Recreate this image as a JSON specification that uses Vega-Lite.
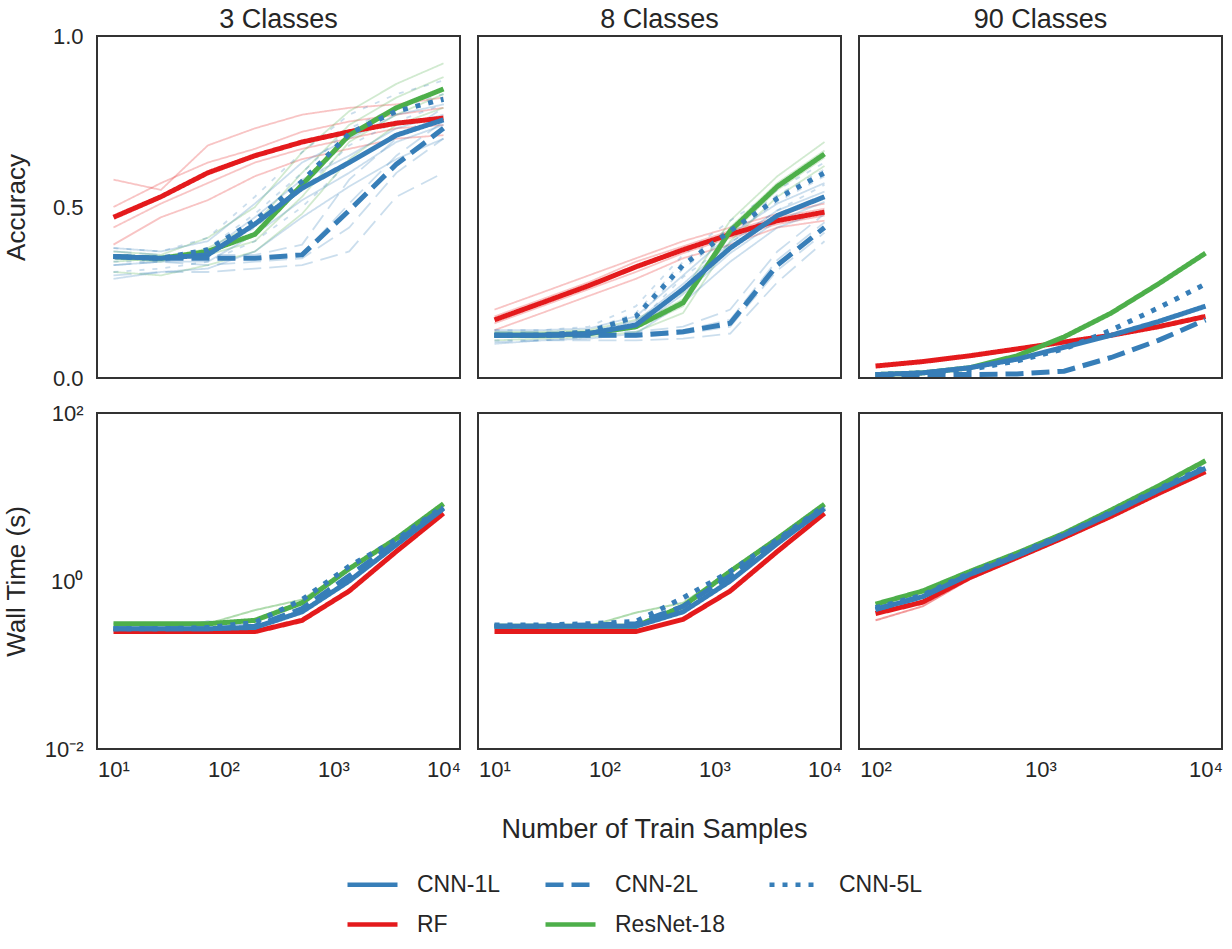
{
"$schema":"https://vega.github.io/schema/vega-lite/v6.json",
"background":"white",
"padding":{"left":2,"top":5,"right":5,"bottom":5},
"config":{
 "view":{"stroke":"#333333","strokeWidth":2},
 "font":"Liberation Sans",
 "axis":{"grid":false,"ticks":false,"domain":false,"labelFont":"Liberation Sans","labelFontSize":22,"labelColor":"#262626","titleFont":"Liberation Sans","titleFontSize":26,"titleColor":"#262626","titleFontWeight":"normal"},
 "title":{"font":"Liberation Sans","fontSize":27,"fontWeight":"normal","color":"#262626","offset":2,"frame":"group"},
 "legend":{"symbolType":"stroke","symbolSize":2500,"symbolStrokeWidth":4.5,"labelFontSize":23,"labelFont":"Liberation Sans","labelColor":"#262626","labelOffset":17,"columnPadding":35,"rowPadding":-20,"symbolOpacity":1,"labelLimit":300}
},
"datasets":{
"acc":[
{"c":"3","m":"RF","t":"1","x":10,"y":0.58},{"c":"3","m":"RF","t":"1","x":27,"y":0.55},{"c":"3","m":"RF","t":"1","x":72,"y":0.68},{"c":"3","m":"RF","t":"1","x":193,"y":0.73},{"c":"3","m":"RF","t":"1","x":518,"y":0.77},{"c":"3","m":"RF","t":"1","x":1389,"y":0.79},{"c":"3","m":"RF","t":"1","x":3728,"y":0.80},{"c":"3","m":"RF","t":"1","x":10000,"y":0.82},
{"c":"3","m":"RF","t":"2","x":10,"y":0.50},{"c":"3","m":"RF","t":"2","x":27,"y":0.57},{"c":"3","m":"RF","t":"2","x":72,"y":0.63},{"c":"3","m":"RF","t":"2","x":193,"y":0.67},{"c":"3","m":"RF","t":"2","x":518,"y":0.72},{"c":"3","m":"RF","t":"2","x":1389,"y":0.75},{"c":"3","m":"RF","t":"2","x":3728,"y":0.77},{"c":"3","m":"RF","t":"2","x":10000,"y":0.79},
{"c":"3","m":"RF","t":"3","x":10,"y":0.44},{"c":"3","m":"RF","t":"3","x":27,"y":0.51},{"c":"3","m":"RF","t":"3","x":72,"y":0.57},{"c":"3","m":"RF","t":"3","x":193,"y":0.63},{"c":"3","m":"RF","t":"3","x":518,"y":0.67},{"c":"3","m":"RF","t":"3","x":1389,"y":0.70},{"c":"3","m":"RF","t":"3","x":3728,"y":0.73},{"c":"3","m":"RF","t":"3","x":10000,"y":0.74},
{"c":"3","m":"RF","t":"4","x":10,"y":0.39},{"c":"3","m":"RF","t":"4","x":27,"y":0.47},{"c":"3","m":"RF","t":"4","x":72,"y":0.52},{"c":"3","m":"RF","t":"4","x":193,"y":0.59},{"c":"3","m":"RF","t":"4","x":518,"y":0.64},{"c":"3","m":"RF","t":"4","x":1389,"y":0.67},{"c":"3","m":"RF","t":"4","x":3728,"y":0.70},{"c":"3","m":"RF","t":"4","x":10000,"y":0.71},
{"c":"3","m":"ResNet-18","t":"1","x":10,"y":0.37},{"c":"3","m":"ResNet-18","t":"1","x":27,"y":0.36},{"c":"3","m":"ResNet-18","t":"1","x":72,"y":0.41},{"c":"3","m":"ResNet-18","t":"1","x":193,"y":0.50},{"c":"3","m":"ResNet-18","t":"1","x":518,"y":0.66},{"c":"3","m":"ResNet-18","t":"1","x":1389,"y":0.78},{"c":"3","m":"ResNet-18","t":"1","x":3728,"y":0.86},{"c":"3","m":"ResNet-18","t":"1","x":10000,"y":0.92},
{"c":"3","m":"ResNet-18","t":"2","x":10,"y":0.35},{"c":"3","m":"ResNet-18","t":"2","x":27,"y":0.34},{"c":"3","m":"ResNet-18","t":"2","x":72,"y":0.38},{"c":"3","m":"ResNet-18","t":"2","x":193,"y":0.45},{"c":"3","m":"ResNet-18","t":"2","x":518,"y":0.60},{"c":"3","m":"ResNet-18","t":"2","x":1389,"y":0.74},{"c":"3","m":"ResNet-18","t":"2","x":3728,"y":0.82},{"c":"3","m":"ResNet-18","t":"2","x":10000,"y":0.88},
{"c":"3","m":"ResNet-18","t":"3","x":10,"y":0.34},{"c":"3","m":"ResNet-18","t":"3","x":27,"y":0.35},{"c":"3","m":"ResNet-18","t":"3","x":72,"y":0.36},{"c":"3","m":"ResNet-18","t":"3","x":193,"y":0.40},{"c":"3","m":"ResNet-18","t":"3","x":518,"y":0.53},{"c":"3","m":"ResNet-18","t":"3","x":1389,"y":0.69},{"c":"3","m":"ResNet-18","t":"3","x":3728,"y":0.77},{"c":"3","m":"ResNet-18","t":"3","x":10000,"y":0.83},
{"c":"3","m":"ResNet-18","t":"4","x":10,"y":0.31},{"c":"3","m":"ResNet-18","t":"4","x":27,"y":0.30},{"c":"3","m":"ResNet-18","t":"4","x":72,"y":0.33},{"c":"3","m":"ResNet-18","t":"4","x":193,"y":0.37},{"c":"3","m":"ResNet-18","t":"4","x":518,"y":0.48},{"c":"3","m":"ResNet-18","t":"4","x":1389,"y":0.64},{"c":"3","m":"ResNet-18","t":"4","x":3728,"y":0.74},{"c":"3","m":"ResNet-18","t":"4","x":10000,"y":0.79},
{"c":"3","m":"CNN-1L","t":"1","x":10,"y":0.38},{"c":"3","m":"CNN-1L","t":"1","x":27,"y":0.37},{"c":"3","m":"CNN-1L","t":"1","x":72,"y":0.40},{"c":"3","m":"CNN-1L","t":"1","x":193,"y":0.51},{"c":"3","m":"CNN-1L","t":"1","x":518,"y":0.63},{"c":"3","m":"CNN-1L","t":"1","x":1389,"y":0.70},{"c":"3","m":"CNN-1L","t":"1","x":3728,"y":0.77},{"c":"3","m":"CNN-1L","t":"1","x":10000,"y":0.80},
{"c":"3","m":"CNN-1L","t":"2","x":10,"y":0.36},{"c":"3","m":"CNN-1L","t":"2","x":27,"y":0.35},{"c":"3","m":"CNN-1L","t":"2","x":72,"y":0.37},{"c":"3","m":"CNN-1L","t":"2","x":193,"y":0.47},{"c":"3","m":"CNN-1L","t":"2","x":518,"y":0.58},{"c":"3","m":"CNN-1L","t":"2","x":1389,"y":0.65},{"c":"3","m":"CNN-1L","t":"2","x":3728,"y":0.73},{"c":"3","m":"CNN-1L","t":"2","x":10000,"y":0.77},
{"c":"3","m":"CNN-1L","t":"3","x":10,"y":0.33},{"c":"3","m":"CNN-1L","t":"3","x":27,"y":0.34},{"c":"3","m":"CNN-1L","t":"3","x":72,"y":0.34},{"c":"3","m":"CNN-1L","t":"3","x":193,"y":0.42},{"c":"3","m":"CNN-1L","t":"3","x":518,"y":0.52},{"c":"3","m":"CNN-1L","t":"3","x":1389,"y":0.60},{"c":"3","m":"CNN-1L","t":"3","x":3728,"y":0.69},{"c":"3","m":"CNN-1L","t":"3","x":10000,"y":0.74},
{"c":"3","m":"CNN-1L","t":"4","x":10,"y":0.29},{"c":"3","m":"CNN-1L","t":"4","x":27,"y":0.31},{"c":"3","m":"CNN-1L","t":"4","x":72,"y":0.32},{"c":"3","m":"CNN-1L","t":"4","x":193,"y":0.37},{"c":"3","m":"CNN-1L","t":"4","x":518,"y":0.47},{"c":"3","m":"CNN-1L","t":"4","x":1389,"y":0.56},{"c":"3","m":"CNN-1L","t":"4","x":3728,"y":0.64},{"c":"3","m":"CNN-1L","t":"4","x":10000,"y":0.70},
{"c":"3","m":"CNN-2L","t":"1","x":10,"y":0.37},{"c":"3","m":"CNN-2L","t":"1","x":27,"y":0.36},{"c":"3","m":"CNN-2L","t":"1","x":72,"y":0.36},{"c":"3","m":"CNN-2L","t":"1","x":193,"y":0.36},{"c":"3","m":"CNN-2L","t":"1","x":518,"y":0.39},{"c":"3","m":"CNN-2L","t":"1","x":1389,"y":0.58},{"c":"3","m":"CNN-2L","t":"1","x":3728,"y":0.70},{"c":"3","m":"CNN-2L","t":"1","x":10000,"y":0.79},
{"c":"3","m":"CNN-2L","t":"2","x":10,"y":0.35},{"c":"3","m":"CNN-2L","t":"2","x":27,"y":0.35},{"c":"3","m":"CNN-2L","t":"2","x":72,"y":0.35},{"c":"3","m":"CNN-2L","t":"2","x":193,"y":0.35},{"c":"3","m":"CNN-2L","t":"2","x":518,"y":0.36},{"c":"3","m":"CNN-2L","t":"2","x":1389,"y":0.51},{"c":"3","m":"CNN-2L","t":"2","x":3728,"y":0.65},{"c":"3","m":"CNN-2L","t":"2","x":10000,"y":0.75},
{"c":"3","m":"CNN-2L","t":"3","x":10,"y":0.33},{"c":"3","m":"CNN-2L","t":"3","x":27,"y":0.34},{"c":"3","m":"CNN-2L","t":"3","x":72,"y":0.33},{"c":"3","m":"CNN-2L","t":"3","x":193,"y":0.34},{"c":"3","m":"CNN-2L","t":"3","x":518,"y":0.35},{"c":"3","m":"CNN-2L","t":"3","x":1389,"y":0.44},{"c":"3","m":"CNN-2L","t":"3","x":3728,"y":0.60},{"c":"3","m":"CNN-2L","t":"3","x":10000,"y":0.70},
{"c":"3","m":"CNN-2L","t":"4","x":10,"y":0.30},{"c":"3","m":"CNN-2L","t":"4","x":27,"y":0.31},{"c":"3","m":"CNN-2L","t":"4","x":72,"y":0.31},{"c":"3","m":"CNN-2L","t":"4","x":193,"y":0.32},{"c":"3","m":"CNN-2L","t":"4","x":518,"y":0.33},{"c":"3","m":"CNN-2L","t":"4","x":1389,"y":0.37},{"c":"3","m":"CNN-2L","t":"4","x":3728,"y":0.53},{"c":"3","m":"CNN-2L","t":"4","x":10000,"y":0.60},
{"c":"3","m":"CNN-5L","t":"1","x":10,"y":0.38},{"c":"3","m":"CNN-5L","t":"1","x":27,"y":0.37},{"c":"3","m":"CNN-5L","t":"1","x":72,"y":0.41},{"c":"3","m":"CNN-5L","t":"1","x":193,"y":0.53},{"c":"3","m":"CNN-5L","t":"1","x":518,"y":0.66},{"c":"3","m":"CNN-5L","t":"1","x":1389,"y":0.77},{"c":"3","m":"CNN-5L","t":"1","x":3728,"y":0.83},{"c":"3","m":"CNN-5L","t":"1","x":10000,"y":0.87},
{"c":"3","m":"CNN-5L","t":"2","x":10,"y":0.36},{"c":"3","m":"CNN-5L","t":"2","x":27,"y":0.35},{"c":"3","m":"CNN-5L","t":"2","x":72,"y":0.38},{"c":"3","m":"CNN-5L","t":"2","x":193,"y":0.48},{"c":"3","m":"CNN-5L","t":"2","x":518,"y":0.60},{"c":"3","m":"CNN-5L","t":"2","x":1389,"y":0.73},{"c":"3","m":"CNN-5L","t":"2","x":3728,"y":0.79},{"c":"3","m":"CNN-5L","t":"2","x":10000,"y":0.83},
{"c":"3","m":"CNN-5L","t":"3","x":10,"y":0.34},{"c":"3","m":"CNN-5L","t":"3","x":27,"y":0.34},{"c":"3","m":"CNN-5L","t":"3","x":72,"y":0.36},{"c":"3","m":"CNN-5L","t":"3","x":193,"y":0.44},{"c":"3","m":"CNN-5L","t":"3","x":518,"y":0.55},{"c":"3","m":"CNN-5L","t":"3","x":1389,"y":0.68},{"c":"3","m":"CNN-5L","t":"3","x":3728,"y":0.75},{"c":"3","m":"CNN-5L","t":"3","x":10000,"y":0.80},
{"c":"3","m":"CNN-5L","t":"4","x":10,"y":0.31},{"c":"3","m":"CNN-5L","t":"4","x":27,"y":0.32},{"c":"3","m":"CNN-5L","t":"4","x":72,"y":0.34},{"c":"3","m":"CNN-5L","t":"4","x":193,"y":0.40},{"c":"3","m":"CNN-5L","t":"4","x":518,"y":0.50},{"c":"3","m":"CNN-5L","t":"4","x":1389,"y":0.63},{"c":"3","m":"CNN-5L","t":"4","x":3728,"y":0.71},{"c":"3","m":"CNN-5L","t":"4","x":10000,"y":0.76},
{"c":"3","m":"RF","t":"m","x":10,"y":0.47},{"c":"3","m":"RF","t":"m","x":27,"y":0.53},{"c":"3","m":"RF","t":"m","x":72,"y":0.60},{"c":"3","m":"RF","t":"m","x":193,"y":0.65},{"c":"3","m":"RF","t":"m","x":518,"y":0.69},{"c":"3","m":"RF","t":"m","x":1389,"y":0.72},{"c":"3","m":"RF","t":"m","x":3728,"y":0.745},{"c":"3","m":"RF","t":"m","x":10000,"y":0.76},
{"c":"3","m":"ResNet-18","t":"m","x":10,"y":0.355},{"c":"3","m":"ResNet-18","t":"m","x":27,"y":0.35},{"c":"3","m":"ResNet-18","t":"m","x":72,"y":0.37},{"c":"3","m":"ResNet-18","t":"m","x":193,"y":0.42},{"c":"3","m":"ResNet-18","t":"m","x":518,"y":0.565},{"c":"3","m":"ResNet-18","t":"m","x":1389,"y":0.71},{"c":"3","m":"ResNet-18","t":"m","x":3728,"y":0.79},{"c":"3","m":"ResNet-18","t":"m","x":10000,"y":0.845},
{"c":"3","m":"CNN-1L","t":"m","x":10,"y":0.355},{"c":"3","m":"CNN-1L","t":"m","x":27,"y":0.35},{"c":"3","m":"CNN-1L","t":"m","x":72,"y":0.36},{"c":"3","m":"CNN-1L","t":"m","x":193,"y":0.45},{"c":"3","m":"CNN-1L","t":"m","x":518,"y":0.555},{"c":"3","m":"CNN-1L","t":"m","x":1389,"y":0.63},{"c":"3","m":"CNN-1L","t":"m","x":3728,"y":0.71},{"c":"3","m":"CNN-1L","t":"m","x":10000,"y":0.755},
{"c":"3","m":"CNN-2L","t":"m","x":10,"y":0.355},{"c":"3","m":"CNN-2L","t":"m","x":27,"y":0.35},{"c":"3","m":"CNN-2L","t":"m","x":72,"y":0.35},{"c":"3","m":"CNN-2L","t":"m","x":193,"y":0.35},{"c":"3","m":"CNN-2L","t":"m","x":518,"y":0.36},{"c":"3","m":"CNN-2L","t":"m","x":1389,"y":0.49},{"c":"3","m":"CNN-2L","t":"m","x":3728,"y":0.625},{"c":"3","m":"CNN-2L","t":"m","x":10000,"y":0.73},
{"c":"3","m":"CNN-5L","t":"m","x":10,"y":0.355},{"c":"3","m":"CNN-5L","t":"m","x":27,"y":0.35},{"c":"3","m":"CNN-5L","t":"m","x":72,"y":0.375},{"c":"3","m":"CNN-5L","t":"m","x":193,"y":0.46},{"c":"3","m":"CNN-5L","t":"m","x":518,"y":0.575},{"c":"3","m":"CNN-5L","t":"m","x":1389,"y":0.715},{"c":"3","m":"CNN-5L","t":"m","x":3728,"y":0.78},{"c":"3","m":"CNN-5L","t":"m","x":10000,"y":0.815},
{"c":"8","m":"RF","t":"1","x":10,"y":0.20},{"c":"8","m":"RF","t":"1","x":27,"y":0.25},{"c":"8","m":"RF","t":"1","x":72,"y":0.30},{"c":"8","m":"RF","t":"1","x":193,"y":0.35},{"c":"8","m":"RF","t":"1","x":518,"y":0.40},{"c":"8","m":"RF","t":"1","x":1389,"y":0.44},{"c":"8","m":"RF","t":"1","x":3728,"y":0.48},{"c":"8","m":"RF","t":"1","x":10000,"y":0.51},
{"c":"8","m":"RF","t":"2","x":10,"y":0.18},{"c":"8","m":"RF","t":"2","x":27,"y":0.23},{"c":"8","m":"RF","t":"2","x":72,"y":0.28},{"c":"8","m":"RF","t":"2","x":193,"y":0.34},{"c":"8","m":"RF","t":"2","x":518,"y":0.385},{"c":"8","m":"RF","t":"2","x":1389,"y":0.43},{"c":"8","m":"RF","t":"2","x":3728,"y":0.47},{"c":"8","m":"RF","t":"2","x":10000,"y":0.495},
{"c":"8","m":"RF","t":"3","x":10,"y":0.16},{"c":"8","m":"RF","t":"3","x":27,"y":0.21},{"c":"8","m":"RF","t":"3","x":72,"y":0.26},{"c":"8","m":"RF","t":"3","x":193,"y":0.31},{"c":"8","m":"RF","t":"3","x":518,"y":0.365},{"c":"8","m":"RF","t":"3","x":1389,"y":0.41},{"c":"8","m":"RF","t":"3","x":3728,"y":0.45},{"c":"8","m":"RF","t":"3","x":10000,"y":0.475},
{"c":"8","m":"RF","t":"4","x":10,"y":0.14},{"c":"8","m":"RF","t":"4","x":27,"y":0.19},{"c":"8","m":"RF","t":"4","x":72,"y":0.24},{"c":"8","m":"RF","t":"4","x":193,"y":0.29},{"c":"8","m":"RF","t":"4","x":518,"y":0.35},{"c":"8","m":"RF","t":"4","x":1389,"y":0.39},{"c":"8","m":"RF","t":"4","x":3728,"y":0.44},{"c":"8","m":"RF","t":"4","x":10000,"y":0.46},
{"c":"8","m":"ResNet-18","t":"1","x":10,"y":0.135},{"c":"8","m":"ResNet-18","t":"1","x":27,"y":0.135},{"c":"8","m":"ResNet-18","t":"1","x":72,"y":0.14},{"c":"8","m":"ResNet-18","t":"1","x":193,"y":0.17},{"c":"8","m":"ResNet-18","t":"1","x":518,"y":0.25},{"c":"8","m":"ResNet-18","t":"1","x":1389,"y":0.46},{"c":"8","m":"ResNet-18","t":"1","x":3728,"y":0.59},{"c":"8","m":"ResNet-18","t":"1","x":10000,"y":0.69},
{"c":"8","m":"ResNet-18","t":"2","x":10,"y":0.13},{"c":"8","m":"ResNet-18","t":"2","x":27,"y":0.13},{"c":"8","m":"ResNet-18","t":"2","x":72,"y":0.135},{"c":"8","m":"ResNet-18","t":"2","x":193,"y":0.155},{"c":"8","m":"ResNet-18","t":"2","x":518,"y":0.23},{"c":"8","m":"ResNet-18","t":"2","x":1389,"y":0.44},{"c":"8","m":"ResNet-18","t":"2","x":3728,"y":0.57},{"c":"8","m":"ResNet-18","t":"2","x":10000,"y":0.665},
{"c":"8","m":"ResNet-18","t":"3","x":10,"y":0.12},{"c":"8","m":"ResNet-18","t":"3","x":27,"y":0.12},{"c":"8","m":"ResNet-18","t":"3","x":72,"y":0.125},{"c":"8","m":"ResNet-18","t":"3","x":193,"y":0.145},{"c":"8","m":"ResNet-18","t":"3","x":518,"y":0.21},{"c":"8","m":"ResNet-18","t":"3","x":1389,"y":0.42},{"c":"8","m":"ResNet-18","t":"3","x":3728,"y":0.55},{"c":"8","m":"ResNet-18","t":"3","x":10000,"y":0.645},
{"c":"8","m":"ResNet-18","t":"4","x":10,"y":0.11},{"c":"8","m":"ResNet-18","t":"4","x":27,"y":0.115},{"c":"8","m":"ResNet-18","t":"4","x":72,"y":0.12},{"c":"8","m":"ResNet-18","t":"4","x":193,"y":0.135},{"c":"8","m":"ResNet-18","t":"4","x":518,"y":0.19},{"c":"8","m":"ResNet-18","t":"4","x":1389,"y":0.40},{"c":"8","m":"ResNet-18","t":"4","x":3728,"y":0.53},{"c":"8","m":"ResNet-18","t":"4","x":10000,"y":0.62},
{"c":"8","m":"CNN-1L","t":"1","x":10,"y":0.14},{"c":"8","m":"CNN-1L","t":"1","x":27,"y":0.14},{"c":"8","m":"CNN-1L","t":"1","x":72,"y":0.145},{"c":"8","m":"CNN-1L","t":"1","x":193,"y":0.18},{"c":"8","m":"CNN-1L","t":"1","x":518,"y":0.30},{"c":"8","m":"CNN-1L","t":"1","x":1389,"y":0.42},{"c":"8","m":"CNN-1L","t":"1","x":3728,"y":0.51},{"c":"8","m":"CNN-1L","t":"1","x":10000,"y":0.57},
{"c":"8","m":"CNN-1L","t":"2","x":10,"y":0.13},{"c":"8","m":"CNN-1L","t":"2","x":27,"y":0.13},{"c":"8","m":"CNN-1L","t":"2","x":72,"y":0.135},{"c":"8","m":"CNN-1L","t":"2","x":193,"y":0.165},{"c":"8","m":"CNN-1L","t":"2","x":518,"y":0.275},{"c":"8","m":"CNN-1L","t":"2","x":1389,"y":0.395},{"c":"8","m":"CNN-1L","t":"2","x":3728,"y":0.49},{"c":"8","m":"CNN-1L","t":"2","x":10000,"y":0.545},
{"c":"8","m":"CNN-1L","t":"3","x":10,"y":0.12},{"c":"8","m":"CNN-1L","t":"3","x":27,"y":0.12},{"c":"8","m":"CNN-1L","t":"3","x":72,"y":0.125},{"c":"8","m":"CNN-1L","t":"3","x":193,"y":0.145},{"c":"8","m":"CNN-1L","t":"3","x":518,"y":0.245},{"c":"8","m":"CNN-1L","t":"3","x":1389,"y":0.365},{"c":"8","m":"CNN-1L","t":"3","x":3728,"y":0.46},{"c":"8","m":"CNN-1L","t":"3","x":10000,"y":0.515},
{"c":"8","m":"CNN-1L","t":"4","x":10,"y":0.10},{"c":"8","m":"CNN-1L","t":"4","x":27,"y":0.11},{"c":"8","m":"CNN-1L","t":"4","x":72,"y":0.115},{"c":"8","m":"CNN-1L","t":"4","x":193,"y":0.13},{"c":"8","m":"CNN-1L","t":"4","x":518,"y":0.22},{"c":"8","m":"CNN-1L","t":"4","x":1389,"y":0.34},{"c":"8","m":"CNN-1L","t":"4","x":3728,"y":0.44},{"c":"8","m":"CNN-1L","t":"4","x":10000,"y":0.49},
{"c":"8","m":"CNN-2L","t":"1","x":10,"y":0.135},{"c":"8","m":"CNN-2L","t":"1","x":27,"y":0.135},{"c":"8","m":"CNN-2L","t":"1","x":72,"y":0.135},{"c":"8","m":"CNN-2L","t":"1","x":193,"y":0.135},{"c":"8","m":"CNN-2L","t":"1","x":518,"y":0.15},{"c":"8","m":"CNN-2L","t":"1","x":1389,"y":0.20},{"c":"8","m":"CNN-2L","t":"1","x":3728,"y":0.37},{"c":"8","m":"CNN-2L","t":"1","x":10000,"y":0.48},
{"c":"8","m":"CNN-2L","t":"2","x":10,"y":0.13},{"c":"8","m":"CNN-2L","t":"2","x":27,"y":0.13},{"c":"8","m":"CNN-2L","t":"2","x":72,"y":0.13},{"c":"8","m":"CNN-2L","t":"2","x":193,"y":0.13},{"c":"8","m":"CNN-2L","t":"2","x":518,"y":0.14},{"c":"8","m":"CNN-2L","t":"2","x":1389,"y":0.17},{"c":"8","m":"CNN-2L","t":"2","x":3728,"y":0.345},{"c":"8","m":"CNN-2L","t":"2","x":10000,"y":0.455},
{"c":"8","m":"CNN-2L","t":"3","x":10,"y":0.12},{"c":"8","m":"CNN-2L","t":"3","x":27,"y":0.12},{"c":"8","m":"CNN-2L","t":"3","x":72,"y":0.12},{"c":"8","m":"CNN-2L","t":"3","x":193,"y":0.12},{"c":"8","m":"CNN-2L","t":"3","x":518,"y":0.13},{"c":"8","m":"CNN-2L","t":"3","x":1389,"y":0.15},{"c":"8","m":"CNN-2L","t":"3","x":3728,"y":0.315},{"c":"8","m":"CNN-2L","t":"3","x":10000,"y":0.425},
{"c":"8","m":"CNN-2L","t":"4","x":10,"y":0.105},{"c":"8","m":"CNN-2L","t":"4","x":27,"y":0.11},{"c":"8","m":"CNN-2L","t":"4","x":72,"y":0.11},{"c":"8","m":"CNN-2L","t":"4","x":193,"y":0.11},{"c":"8","m":"CNN-2L","t":"4","x":518,"y":0.115},{"c":"8","m":"CNN-2L","t":"4","x":1389,"y":0.13},{"c":"8","m":"CNN-2L","t":"4","x":3728,"y":0.28},{"c":"8","m":"CNN-2L","t":"4","x":10000,"y":0.40},
{"c":"8","m":"CNN-5L","t":"1","x":10,"y":0.14},{"c":"8","m":"CNN-5L","t":"1","x":27,"y":0.14},{"c":"8","m":"CNN-5L","t":"1","x":72,"y":0.15},{"c":"8","m":"CNN-5L","t":"1","x":193,"y":0.21},{"c":"8","m":"CNN-5L","t":"1","x":518,"y":0.36},{"c":"8","m":"CNN-5L","t":"1","x":1389,"y":0.46},{"c":"8","m":"CNN-5L","t":"1","x":3728,"y":0.55},{"c":"8","m":"CNN-5L","t":"1","x":10000,"y":0.63},
{"c":"8","m":"CNN-5L","t":"2","x":10,"y":0.13},{"c":"8","m":"CNN-5L","t":"2","x":27,"y":0.13},{"c":"8","m":"CNN-5L","t":"2","x":72,"y":0.14},{"c":"8","m":"CNN-5L","t":"2","x":193,"y":0.19},{"c":"8","m":"CNN-5L","t":"2","x":518,"y":0.34},{"c":"8","m":"CNN-5L","t":"2","x":1389,"y":0.44},{"c":"8","m":"CNN-5L","t":"2","x":3728,"y":0.535},{"c":"8","m":"CNN-5L","t":"2","x":10000,"y":0.61},
{"c":"8","m":"CNN-5L","t":"3","x":10,"y":0.12},{"c":"8","m":"CNN-5L","t":"3","x":27,"y":0.12},{"c":"8","m":"CNN-5L","t":"3","x":72,"y":0.13},{"c":"8","m":"CNN-5L","t":"3","x":193,"y":0.17},{"c":"8","m":"CNN-5L","t":"3","x":518,"y":0.32},{"c":"8","m":"CNN-5L","t":"3","x":1389,"y":0.42},{"c":"8","m":"CNN-5L","t":"3","x":3728,"y":0.515},{"c":"8","m":"CNN-5L","t":"3","x":10000,"y":0.59},
{"c":"8","m":"CNN-5L","t":"4","x":10,"y":0.11},{"c":"8","m":"CNN-5L","t":"4","x":27,"y":0.11},{"c":"8","m":"CNN-5L","t":"4","x":72,"y":0.12},{"c":"8","m":"CNN-5L","t":"4","x":193,"y":0.155},{"c":"8","m":"CNN-5L","t":"4","x":518,"y":0.295},{"c":"8","m":"CNN-5L","t":"4","x":1389,"y":0.395},{"c":"8","m":"CNN-5L","t":"4","x":3728,"y":0.49},{"c":"8","m":"CNN-5L","t":"4","x":10000,"y":0.565},
{"c":"8","m":"RF","t":"m","x":10,"y":0.17},{"c":"8","m":"RF","t":"m","x":27,"y":0.22},{"c":"8","m":"RF","t":"m","x":72,"y":0.27},{"c":"8","m":"RF","t":"m","x":193,"y":0.325},{"c":"8","m":"RF","t":"m","x":518,"y":0.375},{"c":"8","m":"RF","t":"m","x":1389,"y":0.42},{"c":"8","m":"RF","t":"m","x":3728,"y":0.46},{"c":"8","m":"RF","t":"m","x":10000,"y":0.485},
{"c":"8","m":"ResNet-18","t":"m","x":10,"y":0.125},{"c":"8","m":"ResNet-18","t":"m","x":27,"y":0.125},{"c":"8","m":"ResNet-18","t":"m","x":72,"y":0.13},{"c":"8","m":"ResNet-18","t":"m","x":193,"y":0.15},{"c":"8","m":"ResNet-18","t":"m","x":518,"y":0.22},{"c":"8","m":"ResNet-18","t":"m","x":1389,"y":0.43},{"c":"8","m":"ResNet-18","t":"m","x":3728,"y":0.56},{"c":"8","m":"ResNet-18","t":"m","x":10000,"y":0.655},
{"c":"8","m":"CNN-1L","t":"m","x":10,"y":0.125},{"c":"8","m":"CNN-1L","t":"m","x":27,"y":0.125},{"c":"8","m":"CNN-1L","t":"m","x":72,"y":0.13},{"c":"8","m":"CNN-1L","t":"m","x":193,"y":0.155},{"c":"8","m":"CNN-1L","t":"m","x":518,"y":0.26},{"c":"8","m":"CNN-1L","t":"m","x":1389,"y":0.38},{"c":"8","m":"CNN-1L","t":"m","x":3728,"y":0.475},{"c":"8","m":"CNN-1L","t":"m","x":10000,"y":0.53},
{"c":"8","m":"CNN-2L","t":"m","x":10,"y":0.125},{"c":"8","m":"CNN-2L","t":"m","x":27,"y":0.125},{"c":"8","m":"CNN-2L","t":"m","x":72,"y":0.125},{"c":"8","m":"CNN-2L","t":"m","x":193,"y":0.125},{"c":"8","m":"CNN-2L","t":"m","x":518,"y":0.135},{"c":"8","m":"CNN-2L","t":"m","x":1389,"y":0.16},{"c":"8","m":"CNN-2L","t":"m","x":3728,"y":0.33},{"c":"8","m":"CNN-2L","t":"m","x":10000,"y":0.44},
{"c":"8","m":"CNN-5L","t":"m","x":10,"y":0.125},{"c":"8","m":"CNN-5L","t":"m","x":27,"y":0.125},{"c":"8","m":"CNN-5L","t":"m","x":72,"y":0.135},{"c":"8","m":"CNN-5L","t":"m","x":193,"y":0.18},{"c":"8","m":"CNN-5L","t":"m","x":518,"y":0.33},{"c":"8","m":"CNN-5L","t":"m","x":1389,"y":0.43},{"c":"8","m":"CNN-5L","t":"m","x":3728,"y":0.525},{"c":"8","m":"CNN-5L","t":"m","x":10000,"y":0.6},
{"c":"90","m":"RF","t":"m","x":100,"y":0.035},{"c":"90","m":"RF","t":"m","x":193,"y":0.048},{"c":"90","m":"RF","t":"m","x":373,"y":0.065},{"c":"90","m":"RF","t":"m","x":720,"y":0.085},{"c":"90","m":"RF","t":"m","x":1389,"y":0.105},{"c":"90","m":"RF","t":"m","x":2683,"y":0.125},{"c":"90","m":"RF","t":"m","x":5179,"y":0.15},{"c":"90","m":"RF","t":"m","x":10000,"y":0.18},
{"c":"90","m":"ResNet-18","t":"m","x":100,"y":0.01},{"c":"90","m":"ResNet-18","t":"m","x":193,"y":0.015},{"c":"90","m":"ResNet-18","t":"m","x":373,"y":0.03},{"c":"90","m":"ResNet-18","t":"m","x":720,"y":0.065},{"c":"90","m":"ResNet-18","t":"m","x":1389,"y":0.12},{"c":"90","m":"ResNet-18","t":"m","x":2683,"y":0.19},{"c":"90","m":"ResNet-18","t":"m","x":5179,"y":0.275},{"c":"90","m":"ResNet-18","t":"m","x":10000,"y":0.365},
{"c":"90","m":"CNN-1L","t":"m","x":100,"y":0.01},{"c":"90","m":"CNN-1L","t":"m","x":193,"y":0.015},{"c":"90","m":"CNN-1L","t":"m","x":373,"y":0.03},{"c":"90","m":"CNN-1L","t":"m","x":720,"y":0.055},{"c":"90","m":"CNN-1L","t":"m","x":1389,"y":0.09},{"c":"90","m":"CNN-1L","t":"m","x":2683,"y":0.125},{"c":"90","m":"CNN-1L","t":"m","x":5179,"y":0.165},{"c":"90","m":"CNN-1L","t":"m","x":10000,"y":0.21},
{"c":"90","m":"CNN-2L","t":"m","x":100,"y":0.01},{"c":"90","m":"CNN-2L","t":"m","x":193,"y":0.01},{"c":"90","m":"CNN-2L","t":"m","x":373,"y":0.01},{"c":"90","m":"CNN-2L","t":"m","x":720,"y":0.012},{"c":"90","m":"CNN-2L","t":"m","x":1389,"y":0.02},{"c":"90","m":"CNN-2L","t":"m","x":2683,"y":0.06},{"c":"90","m":"CNN-2L","t":"m","x":5179,"y":0.11},{"c":"90","m":"CNN-2L","t":"m","x":10000,"y":0.17},
{"c":"90","m":"CNN-5L","t":"m","x":100,"y":0.01},{"c":"90","m":"CNN-5L","t":"m","x":193,"y":0.015},{"c":"90","m":"CNN-5L","t":"m","x":373,"y":0.025},{"c":"90","m":"CNN-5L","t":"m","x":720,"y":0.05},{"c":"90","m":"CNN-5L","t":"m","x":1389,"y":0.085},{"c":"90","m":"CNN-5L","t":"m","x":2683,"y":0.14},{"c":"90","m":"CNN-5L","t":"m","x":5179,"y":0.205},{"c":"90","m":"CNN-5L","t":"m","x":10000,"y":0.275}
],
"timet":[
{"c":"3","m":"ResNet-18","t":"1","x":10,"y":0.31},{"c":"3","m":"ResNet-18","t":"1","x":27,"y":0.31},{"c":"3","m":"ResNet-18","t":"1","x":72,"y":0.31},{"c":"3","m":"ResNet-18","t":"1","x":193,"y":0.45},{"c":"3","m":"ResNet-18","t":"1","x":518,"y":0.6},{"c":"3","m":"ResNet-18","t":"1","x":1389,"y":1.4},{"c":"3","m":"ResNet-18","t":"1","x":3728,"y":3.2},{"c":"3","m":"ResNet-18","t":"1","x":10000,"y":8.3},
{"c":"3","m":"CNN-1L","t":"1","x":10,"y":0.27},{"c":"3","m":"CNN-1L","t":"1","x":27,"y":0.27},{"c":"3","m":"CNN-1L","t":"1","x":72,"y":0.33},{"c":"3","m":"CNN-1L","t":"1","x":193,"y":0.29},{"c":"3","m":"CNN-1L","t":"1","x":518,"y":0.45},{"c":"3","m":"CNN-1L","t":"1","x":1389,"y":1.0},{"c":"3","m":"CNN-1L","t":"1","x":3728,"y":2.7},{"c":"3","m":"CNN-1L","t":"1","x":10000,"y":7.3},
{"c":"8","m":"ResNet-18","t":"1","x":10,"y":0.29},{"c":"8","m":"ResNet-18","t":"1","x":27,"y":0.29},{"c":"8","m":"ResNet-18","t":"1","x":72,"y":0.29},{"c":"8","m":"ResNet-18","t":"1","x":193,"y":0.42},{"c":"8","m":"ResNet-18","t":"1","x":518,"y":0.55},{"c":"8","m":"ResNet-18","t":"1","x":1389,"y":1.3},{"c":"8","m":"ResNet-18","t":"1","x":3728,"y":3.2},{"c":"8","m":"ResNet-18","t":"1","x":10000,"y":8.2},
{"c":"90","m":"RF","t":"1","x":100,"y":0.34},{"c":"90","m":"RF","t":"1","x":193,"y":0.5},{"c":"90","m":"RF","t":"1","x":373,"y":1.05},{"c":"90","m":"RF","t":"1","x":720,"y":1.85},{"c":"90","m":"RF","t":"1","x":1389,"y":3.2},{"c":"90","m":"RF","t":"1","x":2683,"y":5.8},{"c":"90","m":"RF","t":"1","x":5179,"y":10.8},{"c":"90","m":"RF","t":"1","x":10000,"y":20}
],
"time":[
{"c":"3","m":"RF","x":10,"y":0.25},{"c":"3","m":"RF","x":27,"y":0.25},{"c":"3","m":"RF","x":72,"y":0.25},{"c":"3","m":"RF","x":193,"y":0.25},{"c":"3","m":"RF","x":518,"y":0.34},{"c":"3","m":"RF","x":1389,"y":0.76},{"c":"3","m":"RF","x":3728,"y":2.25},{"c":"3","m":"RF","x":10000,"y":6.4},
{"c":"3","m":"ResNet-18","x":10,"y":0.31},{"c":"3","m":"ResNet-18","x":27,"y":0.31},{"c":"3","m":"ResNet-18","x":72,"y":0.31},{"c":"3","m":"ResNet-18","x":193,"y":0.34},{"c":"3","m":"ResNet-18","x":518,"y":0.55},{"c":"3","m":"ResNet-18","x":1389,"y":1.4},{"c":"3","m":"ResNet-18","x":3728,"y":3.2},{"c":"3","m":"ResNet-18","x":10000,"y":8.3},
{"c":"3","m":"CNN-1L","x":10,"y":0.27},{"c":"3","m":"CNN-1L","x":27,"y":0.27},{"c":"3","m":"CNN-1L","x":72,"y":0.27},{"c":"3","m":"CNN-1L","x":193,"y":0.28},{"c":"3","m":"CNN-1L","x":518,"y":0.43},{"c":"3","m":"CNN-1L","x":1389,"y":1.0},{"c":"3","m":"CNN-1L","x":3728,"y":2.7},{"c":"3","m":"CNN-1L","x":10000,"y":7.3},
{"c":"3","m":"CNN-2L","x":10,"y":0.27},{"c":"3","m":"CNN-2L","x":27,"y":0.27},{"c":"3","m":"CNN-2L","x":72,"y":0.27},{"c":"3","m":"CNN-2L","x":193,"y":0.29},{"c":"3","m":"CNN-2L","x":518,"y":0.47},{"c":"3","m":"CNN-2L","x":1389,"y":1.15},{"c":"3","m":"CNN-2L","x":3728,"y":2.9},{"c":"3","m":"CNN-2L","x":10000,"y":7.5},
{"c":"3","m":"CNN-5L","x":10,"y":0.27},{"c":"3","m":"CNN-5L","x":27,"y":0.27},{"c":"3","m":"CNN-5L","x":72,"y":0.28},{"c":"3","m":"CNN-5L","x":193,"y":0.32},{"c":"3","m":"CNN-5L","x":518,"y":0.6},{"c":"3","m":"CNN-5L","x":1389,"y":1.5},{"c":"3","m":"CNN-5L","x":3728,"y":3.1},{"c":"3","m":"CNN-5L","x":10000,"y":7.8},
{"c":"8","m":"RF","x":10,"y":0.25},{"c":"8","m":"RF","x":27,"y":0.25},{"c":"8","m":"RF","x":72,"y":0.25},{"c":"8","m":"RF","x":193,"y":0.25},{"c":"8","m":"RF","x":518,"y":0.35},{"c":"8","m":"RF","x":1389,"y":0.76},{"c":"8","m":"RF","x":3728,"y":2.25},{"c":"8","m":"RF","x":10000,"y":6.4},
{"c":"8","m":"ResNet-18","x":10,"y":0.29},{"c":"8","m":"ResNet-18","x":27,"y":0.29},{"c":"8","m":"ResNet-18","x":72,"y":0.29},{"c":"8","m":"ResNet-18","x":193,"y":0.29},{"c":"8","m":"ResNet-18","x":518,"y":0.5},{"c":"8","m":"ResNet-18","x":1389,"y":1.3},{"c":"8","m":"ResNet-18","x":3728,"y":3.2},{"c":"8","m":"ResNet-18","x":10000,"y":8.2},
{"c":"8","m":"CNN-1L","x":10,"y":0.29},{"c":"8","m":"CNN-1L","x":27,"y":0.29},{"c":"8","m":"CNN-1L","x":72,"y":0.29},{"c":"8","m":"CNN-1L","x":193,"y":0.29},{"c":"8","m":"CNN-1L","x":518,"y":0.43},{"c":"8","m":"CNN-1L","x":1389,"y":1.0},{"c":"8","m":"CNN-1L","x":3728,"y":2.8},{"c":"8","m":"CNN-1L","x":10000,"y":7.3},
{"c":"8","m":"CNN-2L","x":10,"y":0.29},{"c":"8","m":"CNN-2L","x":27,"y":0.29},{"c":"8","m":"CNN-2L","x":72,"y":0.3},{"c":"8","m":"CNN-2L","x":193,"y":0.31},{"c":"8","m":"CNN-2L","x":518,"y":0.5},{"c":"8","m":"CNN-2L","x":1389,"y":1.15},{"c":"8","m":"CNN-2L","x":3728,"y":3.0},{"c":"8","m":"CNN-2L","x":10000,"y":7.5},
{"c":"8","m":"CNN-5L","x":10,"y":0.3},{"c":"8","m":"CNN-5L","x":27,"y":0.3},{"c":"8","m":"CNN-5L","x":72,"y":0.31},{"c":"8","m":"CNN-5L","x":193,"y":0.33},{"c":"8","m":"CNN-5L","x":518,"y":0.63},{"c":"8","m":"CNN-5L","x":1389,"y":1.3},{"c":"8","m":"CNN-5L","x":3728,"y":3.1},{"c":"8","m":"CNN-5L","x":10000,"y":7.8},
{"c":"90","m":"RF","x":100,"y":0.41},{"c":"90","m":"RF","x":193,"y":0.56},{"c":"90","m":"RF","x":373,"y":1.1},{"c":"90","m":"RF","x":720,"y":1.9},{"c":"90","m":"RF","x":1389,"y":3.3},{"c":"90","m":"RF","x":2683,"y":5.9},{"c":"90","m":"RF","x":5179,"y":11},{"c":"90","m":"RF","x":10000,"y":20},
{"c":"90","m":"ResNet-18","x":100,"y":0.53},{"c":"90","m":"ResNet-18","x":193,"y":0.76},{"c":"90","m":"ResNet-18","x":373,"y":1.3},{"c":"90","m":"ResNet-18","x":720,"y":2.15},{"c":"90","m":"ResNet-18","x":1389,"y":3.7},{"c":"90","m":"ResNet-18","x":2683,"y":7},{"c":"90","m":"ResNet-18","x":5179,"y":13.5},{"c":"90","m":"ResNet-18","x":10000,"y":27},
{"c":"90","m":"CNN-1L","x":100,"y":0.46},{"c":"90","m":"CNN-1L","x":193,"y":0.65},{"c":"90","m":"CNN-1L","x":373,"y":1.2},{"c":"90","m":"CNN-1L","x":720,"y":2.0},{"c":"90","m":"CNN-1L","x":1389,"y":3.5},{"c":"90","m":"CNN-1L","x":2683,"y":6.4},{"c":"90","m":"CNN-1L","x":5179,"y":12},{"c":"90","m":"CNN-1L","x":10000,"y":22},
{"c":"90","m":"CNN-2L","x":100,"y":0.46},{"c":"90","m":"CNN-2L","x":193,"y":0.66},{"c":"90","m":"CNN-2L","x":373,"y":1.2},{"c":"90","m":"CNN-2L","x":720,"y":2.0},{"c":"90","m":"CNN-2L","x":1389,"y":3.5},{"c":"90","m":"CNN-2L","x":2683,"y":6.5},{"c":"90","m":"CNN-2L","x":5179,"y":12},{"c":"90","m":"CNN-2L","x":10000,"y":22.5},
{"c":"90","m":"CNN-5L","x":100,"y":0.48},{"c":"90","m":"CNN-5L","x":193,"y":0.68},{"c":"90","m":"CNN-5L","x":373,"y":1.25},{"c":"90","m":"CNN-5L","x":720,"y":2.1},{"c":"90","m":"CNN-5L","x":1389,"y":3.6},{"c":"90","m":"CNN-5L","x":2683,"y":6.6},{"c":"90","m":"CNN-5L","x":5179,"y":12.5},{"c":"90","m":"CNN-5L","x":10000,"y":23}
]
},
"columns":3,
"spacing":{"row":35,"column":18},
"bounds":"flush",
"concat":[
{
 "width":363,"height":342,"title":{"text":"3 Classes","dy":11},
 "data":{"name":"acc"},"transform":[{"filter":"datum.c=='3'"}],
 "encoding":{
  "x":{"field":"x","type":"quantitative","scale":{"type":"log","domain":[7.08,14125],"nice":false},"axis":null},
  "y":{"field":"y","type":"quantitative","scale":{"domain":[0,1],"nice":false,"zero":false},"axis":{"title":"Accuracy","values":[0,0.5,1],"format":".1f","labelPadding":14,"minExtent":58,"maxExtent":58,"titlePadding":10}},
  "color":{"field":"m","type":"nominal","scale":{"domain":["CNN-1L","CNN-2L","CNN-5L","RF","ResNet-18"],"range":["#377eb8","#377eb8","#377eb8","#e41a1c","#4daf4a"]},"legend":{"title":null,"orient":"none","legendX":248,"legendY":821,"columns":3,"direction":"horizontal"}},
  "strokeDash":{"field":"m","type":"nominal","scale":{"domain":["CNN-1L","CNN-2L","CNN-5L","RF","ResNet-18"],"range":[[1,0],[18,8],[5,8],[1,0],[1,0]]},"legend":{"title":null,"orient":"none","legendX":248,"legendY":821,"columns":3,"direction":"horizontal"}}
 },
 "layer":[
  {"transform":[{"filter":"datum.t!='m'"}],"mark":{"type":"line","strokeWidth":1.8,"strokeOpacity":0.26},"encoding":{"detail":{"field":"t"}}},
  {"transform":[{"filter":"datum.t=='m'"}],"mark":{"type":"line","strokeWidth":5}}
 ]
},
{
 "width":363,"height":342,"title":{"text":"8 Classes"},
 "data":{"name":"acc"},"transform":[{"filter":"datum.c=='8'"}],
 "encoding":{
  "x":{"field":"x","type":"quantitative","scale":{"type":"log","domain":[7.08,14125],"nice":false},"axis":null},
  "y":{"field":"y","type":"quantitative","scale":{"domain":[0,1],"nice":false,"zero":false},"axis":null},
  "color":{"field":"m","type":"nominal","scale":{"domain":["CNN-1L","CNN-2L","CNN-5L","RF","ResNet-18"],"range":["#377eb8","#377eb8","#377eb8","#e41a1c","#4daf4a"]},"legend":{"title":null,"orient":"none","legendX":248,"legendY":821,"columns":3,"direction":"horizontal"}},
  "strokeDash":{"field":"m","type":"nominal","scale":{"domain":["CNN-1L","CNN-2L","CNN-5L","RF","ResNet-18"],"range":[[1,0],[18,8],[5,8],[1,0],[1,0]]},"legend":{"title":null,"orient":"none","legendX":248,"legendY":821,"columns":3,"direction":"horizontal"}}
 },
 "layer":[
  {"transform":[{"filter":"datum.t!='m'"}],"mark":{"type":"line","strokeWidth":1.8,"strokeOpacity":0.26},"encoding":{"detail":{"field":"t"}}},
  {"transform":[{"filter":"datum.t=='m'"}],"mark":{"type":"line","strokeWidth":5}}
 ]
},
{
 "width":363,"height":342,"title":{"text":"90 Classes"},
 "data":{"name":"acc"},"transform":[{"filter":"datum.c=='90'"}],
 "encoding":{
  "x":{"field":"x","type":"quantitative","scale":{"type":"log","domain":[79.4,12589],"nice":false},"axis":null},
  "y":{"field":"y","type":"quantitative","scale":{"domain":[0,1],"nice":false,"zero":false},"axis":null},
  "color":{"field":"m","type":"nominal","scale":{"domain":["CNN-1L","CNN-2L","CNN-5L","RF","ResNet-18"],"range":["#377eb8","#377eb8","#377eb8","#e41a1c","#4daf4a"]},"legend":{"title":null,"orient":"none","legendX":248,"legendY":821,"columns":3,"direction":"horizontal"}},
  "strokeDash":{"field":"m","type":"nominal","scale":{"domain":["CNN-1L","CNN-2L","CNN-5L","RF","ResNet-18"],"range":[[1,0],[18,8],[5,8],[1,0],[1,0]]},"legend":{"title":null,"orient":"none","legendX":248,"legendY":821,"columns":3,"direction":"horizontal"}}
 },
 "layer":[
  {"mark":{"type":"line","strokeWidth":5}}
 ]
},
{
 "width":363,"height":336,
 "encoding":{
  "x":{"field":"x","type":"quantitative","scale":{"type":"log","domain":[7.08,14125],"nice":false},"axis":{"title":null,"values":[10,100,1000,10000],"labelExpr":"datum.value<50?'10¹':datum.value<500?'10²':datum.value<5000?'10³':'10⁴'","labelFlush":false,"labelOverlap":false,"labelPadding":10}},
  "y":{"field":"y","type":"quantitative","scale":{"type":"log","domain":[0.01,100],"nice":false},"axis":{"title":"Wall Time (s)","values":[0.01,1,100],"labelExpr":"datum.value<0.1?'10⁻²':datum.value<10?'10⁰':'10²'","labelPadding":14,"minExtent":58,"maxExtent":58,"titlePadding":10}},
  "color":{"field":"m","type":"nominal","scale":{"domain":["CNN-1L","CNN-2L","CNN-5L","RF","ResNet-18"],"range":["#377eb8","#377eb8","#377eb8","#e41a1c","#4daf4a"]},"legend":{"title":null,"orient":"none","legendX":248,"legendY":821,"columns":3,"direction":"horizontal"}},
  "strokeDash":{"field":"m","type":"nominal","scale":{"domain":["CNN-1L","CNN-2L","CNN-5L","RF","ResNet-18"],"range":[[1,0],[18,8],[5,8],[1,0],[1,0]]},"legend":{"title":null,"orient":"none","legendX":248,"legendY":821,"columns":3,"direction":"horizontal"}}
 },
 "layer":[
  {"data":{"name":"timet"},"transform":[{"filter":"datum.c=='3'"}],"mark":{"type":"line","strokeWidth":2,"strokeOpacity":0.45},"encoding":{"detail":{"field":"t"}}},
  {"data":{"name":"time"},"transform":[{"filter":"datum.c=='3'"}],"mark":{"type":"line","strokeWidth":5}}
 ]
},
{
 "width":363,"height":336,
 "encoding":{
  "x":{"field":"x","type":"quantitative","scale":{"type":"log","domain":[7.08,14125],"nice":false},"axis":{"title":"Number of Train Samples","titlePadding":36,"titleX":176,"titleFontSize":27,"values":[10,100,1000,10000],"labelExpr":"datum.value<50?'10¹':datum.value<500?'10²':datum.value<5000?'10³':'10⁴'","labelFlush":false,"labelOverlap":false,"labelPadding":10}},
  "y":{"field":"y","type":"quantitative","scale":{"type":"log","domain":[0.01,100],"nice":false},"axis":null},
  "color":{"field":"m","type":"nominal","scale":{"domain":["CNN-1L","CNN-2L","CNN-5L","RF","ResNet-18"],"range":["#377eb8","#377eb8","#377eb8","#e41a1c","#4daf4a"]},"legend":{"title":null,"orient":"none","legendX":248,"legendY":821,"columns":3,"direction":"horizontal"}},
  "strokeDash":{"field":"m","type":"nominal","scale":{"domain":["CNN-1L","CNN-2L","CNN-5L","RF","ResNet-18"],"range":[[1,0],[18,8],[5,8],[1,0],[1,0]]},"legend":{"title":null,"orient":"none","legendX":248,"legendY":821,"columns":3,"direction":"horizontal"}}
 },
 "layer":[
  {"data":{"name":"timet"},"transform":[{"filter":"datum.c=='8'"}],"mark":{"type":"line","strokeWidth":2,"strokeOpacity":0.45},"encoding":{"detail":{"field":"t"}}},
  {"data":{"name":"time"},"transform":[{"filter":"datum.c=='8'"}],"mark":{"type":"line","strokeWidth":5}}
 ]
},
{
 "width":363,"height":336,
 "encoding":{
  "x":{"field":"x","type":"quantitative","scale":{"type":"log","domain":[79.4,12589],"nice":false},"axis":{"title":null,"values":[100,1000,10000],"labelExpr":"datum.value<500?'10²':datum.value<5000?'10³':'10⁴'","labelFlush":false,"labelOverlap":false,"labelPadding":10}},
  "y":{"field":"y","type":"quantitative","scale":{"type":"log","domain":[0.01,100],"nice":false},"axis":null},
  "color":{"field":"m","type":"nominal","scale":{"domain":["CNN-1L","CNN-2L","CNN-5L","RF","ResNet-18"],"range":["#377eb8","#377eb8","#377eb8","#e41a1c","#4daf4a"]},"legend":{"title":null,"orient":"none","legendX":248,"legendY":821,"columns":3,"direction":"horizontal"}},
  "strokeDash":{"field":"m","type":"nominal","scale":{"domain":["CNN-1L","CNN-2L","CNN-5L","RF","ResNet-18"],"range":[[1,0],[18,8],[5,8],[1,0],[1,0]]},"legend":{"title":null,"orient":"none","legendX":248,"legendY":821,"columns":3,"direction":"horizontal"}}
 },
 "layer":[
  {"data":{"name":"timet"},"transform":[{"filter":"datum.c=='90'"}],"mark":{"type":"line","strokeWidth":2,"strokeOpacity":0.45},"encoding":{"detail":{"field":"t"}}},
  {"data":{"name":"time"},"transform":[{"filter":"datum.c=='90'"}],"mark":{"type":"line","strokeWidth":5}}
 ]
}
]
}
